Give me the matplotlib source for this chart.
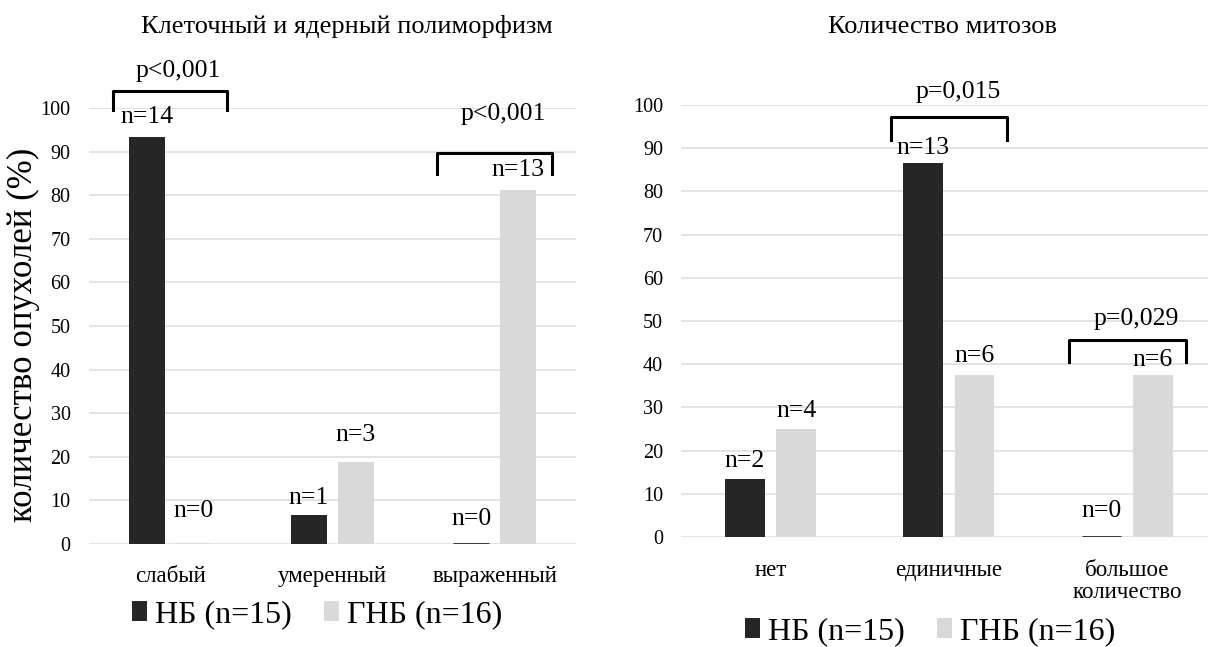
import numpy as np
import matplotlib
matplotlib.use("Agg")
import matplotlib.pyplot as plt
from matplotlib.patches import Patch

plt.rcParams['font.family'] = ['Liberation Serif', 'DejaVu Serif']

# --- data -------------------------------------------------------------
series_names = ["НБ (n=15)", "ГНБ (n=16)"]
group_sizes = [15, 16]

poly_categories = ["слабый", "умеренный", "выраженный"]
poly_nb = [14, 1, 0]
poly_gnb = [0, 3, 13]

mit_categories = ["нет", "единичные", "большое\nколичество"]
mit_nb = [2, 13, 0]
mit_gnb = [4, 6, 6]

poly_title = "Клеточный и ядерный полиморфизм"
mit_title = "Количество митозов"
y_label = "количество опухолей (%)"

# p-values: (category index, text)
poly_pvalues = [(0, "p<0,001"), (2, "p<0,001")]
mit_pvalues = [(1, "p=0,015"), (2, "p=0,029")]

# --- style ------------------------------------------------------------
DARK = "#262626"
LIGHT = "#d9d9d9"
GRID = "#e3e3e3"
BAR_W = 0.222
OFFSET = 0.144

W, H = 1208, 647
fig = plt.figure(figsize=(W / 100, H / 100), dpi=100)


def px_axes(x0, x1, y_top, y_bottom):
    return fig.add_axes([x0 / W, (H - y_bottom) / H, (x1 - x0) / W, (y_bottom - y_top) / H])


def draw_panel(ax, categories, nb, gnb, pvals, label_dy, bracket_geo, xpad):
    x = np.arange(len(categories))
    counts = [np.asarray(nb), np.asarray(gnb)]
    colors = [DARK, LIGHT]
    for k, (c, col) in enumerate(zip(counts, colors)):
        pct = c / group_sizes[k] * 100
        lw = np.where(pct == 0, 2.0, 0.0)
        xs = x + (-OFFSET if k == 0 else OFFSET)
        ax.bar(xs, pct, width=BAR_W, color=col, edgecolor=col, linewidth=lw, zorder=3)
        for i, (xi, p, n) in enumerate(zip(xs, pct, c)):
            ax.text(xi, p + label_dy[k][i], f"n={n}", ha="center", va="center",
                    fontsize=18.5, color="black", zorder=4)
    ax.set_xlim(-0.5, len(categories) - 0.5)
    ax.set_ylim(0, 100)
    ax.set_yticks(np.arange(0, 101, 10))
    ax.yaxis.grid(True, color=GRID, linewidth=1.4, zorder=0)
    ax.set_axisbelow(True)
    for s in ax.spines.values():
        s.set_visible(False)
    ax.tick_params(axis="y", length=0, pad=13, labelsize=14.5)
    ax.tick_params(axis="x", length=0, pad=xpad, labelsize=16.5)
    ax.set_xticks(x)
    ax.set_xticklabels(categories, linespacing=1.05, va="top")
    for (ci, txt), (half, top, drop, tdy) in zip(pvals, bracket_geo):
        cx = ci + 0.0
        xl, xr = cx - half, cx + half
        ax.plot([xl, xl, xr, xr], [top - drop, top, top, top - drop], color="black",
                linewidth=2.2, solid_joinstyle="round", clip_on=False, zorder=5)
        ax.text(cx + 0.05, top + tdy, txt, ha="center", va="center", fontsize=18.5,
                clip_on=False)


# left panel: polymorphism
ax1 = px_axes(88.8, 576, 108, 544)
draw_panel(
    ax1, poly_categories, poly_nb, poly_gnb, poly_pvalues,
    label_dy=[[4.5, 3.9, 5.8], [7.6, 6.2, 4.6]],
    bracket_geo=[(0.35, 104.0, 4.5, 4.4), (0.353, 89.7, 4.8, 9.0)],
    xpad=15.5,
)
ax1.set_ylabel(y_label, fontsize=25)
ax1.yaxis.set_label_coords((40 - 88.8) / 487.2, 0.479)

# right panel: mitoses
ax2 = px_axes(681.3, 1216.5, 105, 537)
draw_panel(
    ax2, mit_categories, mit_nb, mit_gnb, mit_pvalues,
    label_dy=[[4.3, 3.4, 6.1], [4.2, 4.4, 3.5]],
    bracket_geo=[(0.326, 97.3, 5.4, 5.6), (0.328, 45.6, 5.1, 4.9)],
    xpad=16.5,
)

fig.text(347 / W, 1 - 27 / H, poly_title, ha="center", va="center", fontsize=19)
fig.text(942 / W, 1 - 27 / H, mit_title, ha="center", va="center", fontsize=19)

handles = [Patch(facecolor=DARK, edgecolor="none"), Patch(facecolor=LIGHT, edgecolor="none")]
leg_kw = dict(ncol=2, frameon=False, fontsize=23, handlelength=0.47, handleheight=0.56,
              handletextpad=0.25, columnspacing=1.0, borderpad=0, borderaxespad=0)
fig.legend(handles, series_names, loc="center", bbox_to_anchor=(317 / W, 1 - 615 / H), **leg_kw)
fig.legend(handles, series_names, loc="center", bbox_to_anchor=(930 / W, 1 - 632 / H), **leg_kw)

fig.savefig("out.png", dpi=100, facecolor="white")
